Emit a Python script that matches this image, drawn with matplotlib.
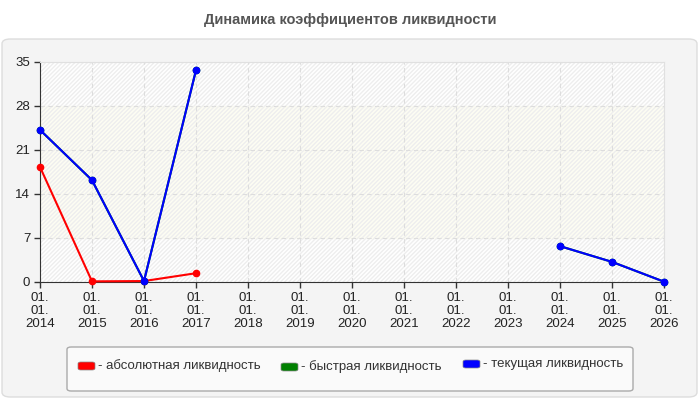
import numpy as np
import matplotlib
matplotlib.use("Agg")
import matplotlib.pyplot as plt
from matplotlib.patches import FancyBboxPatch, Rectangle

plt.rcParams['font.family'] = ['Liberation Sans', 'DejaVu Sans']

years = [2014, 2015, 2016, 2017, 2018, 2019, 2020, 2021, 2022, 2023, 2024, 2025, 2026]
tick_labels = ["01.\n01.\n%d" % y for y in years]
nan = np.nan
absolute = [18.3, 0.1, 0.15, 1.4, nan, nan, nan, nan, nan, nan, nan, nan, nan]
quick = [24.2, 16.2, 0.15, 33.7, nan, nan, nan, nan, nan, nan, 5.7, 3.2, 0.05]
current = [24.2, 16.2, 0.15, 33.7, nan, nan, nan, nan, nan, nan, 5.7, 3.2, 0.05]
series_names = ["- абсолютная ликвидность", "- быстрая ликвидность", "- текущая ликвидность"]
series_colors = ["#ff0000", "#008000", "#0000ff"]
y_ticks = [0, 7, 14, 21, 28, 35]
title = "Динамика коэффициентов ликвидности"

fig = plt.figure(figsize=(7, 4), dpi=100)
fig.patch.set_facecolor("white")

# outer panel
panel = FancyBboxPatch((2 / 700, 3 / 400), 695 / 700, 358 / 400,
                       boxstyle="round,pad=0,rounding_size=0.012",
                       transform=fig.transFigure, facecolor="#f4f4f4",
                       edgecolor="#dddddd", linewidth=1, zorder=-5)
fig.patches.append(panel)

fig.text(0.5, 1 - 20 / 400, title, ha="center", va="center",
         fontsize=10.5, fontweight="bold", color="#555555")

ax = fig.add_axes([40 / 700, (400 - 282) / 400, 624 / 700, 220 / 400])
ax.set_zorder(2)
ax.set_facecolor("white")
x = np.arange(len(years))
ax.set_xlim(0, len(years) - 1)
ax.set_ylim(0, 35)

# background bands
ax.axhspan(7, 28, color="#fdfdf3", zorder=0)
ax.add_patch(Rectangle((0, 0), 1, 1, transform=ax.transAxes, fill=False,
                       hatch="////////", edgecolor="#eeeeee", linewidth=0, zorder=0))

ax.grid(True, color="#dddddd", linestyle=(0, (4, 3)), linewidth=0.8)
ax.set_axisbelow(True)

for vals, col in zip([absolute, quick, current], series_colors):
    ax.plot(x, vals, color=col, linewidth=1.5, marker="o", markersize=4.5,
            zorder=3, clip_on=False)

ax.set_xticks(x)
ax.set_xticklabels(tick_labels, fontsize=9.5, color="#222222", linespacing=1.15)
ax.set_yticks(y_ticks)
ax.set_yticklabels([str(v) for v in y_ticks], fontsize=9.5, color="#222222")
ax.tick_params(axis="both", length=4, width=1, color="#333333", pad=3)

ax.spines["left"].set_color("#333333")
ax.spines["bottom"].set_color("#333333")
ax.spines["top"].set_color("#e0e0e0")
ax.spines["right"].set_color("#e0e0e0")

# legend box
leg = FancyBboxPatch((67 / 700, (400 - 391) / 400), 566 / 700, 44 / 400,
                     boxstyle="round,pad=0,rounding_size=0.006",
                     transform=fig.transFigure, facecolor="#fafafa",
                     edgecolor="#aaaaaa", linewidth=1, zorder=1)
fig.patches.append(leg)

leg_x = [78, 281, 463]
leg_y = [366, 367, 364]
for name, col, lx, ly in zip(series_names, series_colors, leg_x, leg_y):
    sw = FancyBboxPatch((lx / 700, (400 - ly - 4) / 400), 17 / 700, 8 / 400,
                        boxstyle="round,pad=0,rounding_size=0.004",
                        transform=fig.transFigure, facecolor=col,
                        edgecolor="#888888", linewidth=0.5, zorder=2)
    fig.patches.append(sw)
    fig.text((lx + 20) / 700, 1 - ly / 400, name, ha="left", va="center",
             fontsize=9.5, color="#333333")

fig.savefig("out.png", dpi=100, facecolor=fig.get_facecolor())
